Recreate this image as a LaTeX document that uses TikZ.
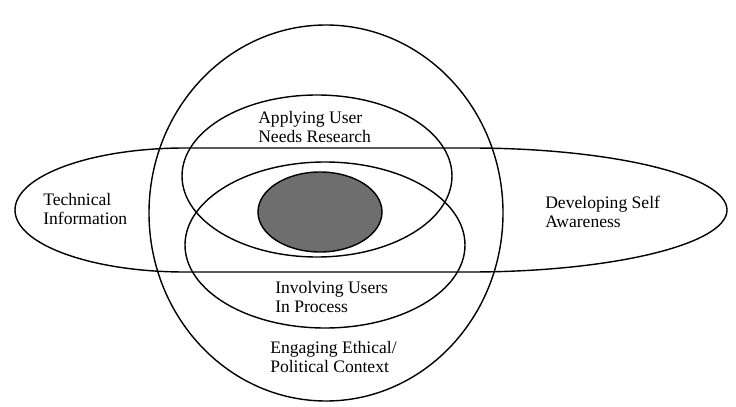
\documentclass[tikz,border=0pt]{standalone}
\usepackage{fontspec}
\setmainfont{Liberation Serif}
\usetikzlibrary{positioning}

\begin{document}
\begin{tikzpicture}[
    x=0.025cm, y=-0.025cm,
    ring/.style={draw=black, line width=1pt},
    core/.style={draw=black, line width=1pt, fill=black!57},
    lbl/.style={font=\fontsize{12.5}{13.5}\selectfont, align=left, anchor=west, inner sep=0pt}
]
\useasboundingbox (0,0) rectangle (736,407);
% outer circle and the long band
\draw[ring] (326,213) ellipse [x radius=177, y radius=188];
\draw[ring] (185,148) -- (470,148)
    arc[start angle=-90, end angle=90, x radius=257, y radius=62]
    -- (185,272)
    arc[start angle=90, end angle=270, x radius=170, y radius=62] -- cycle;
% upper and lower ellipses
\draw[ring] (317,176) ellipse [x radius=135, y radius=81];
\draw[ring] (325,245) ellipse [x radius=140, y radius=83];
% shaded core
\draw[core] (320,212) ellipse [x radius=62, y radius=40];
% labels
\node (research) [lbl] at (258,127) {Applying User\\Needs Research};
\node (technical) [lbl] at (43,209) {Technical\\Information};
\node (awareness) [lbl] at (545,212) {Developing Self\\Awareness};
\node (involving) [lbl] at (275,297) {Involving Users\\In Process};
\node (context) [lbl] at (270,357) {Engaging Ethical/\\Political Context};
\end{tikzpicture}
\end{document}
